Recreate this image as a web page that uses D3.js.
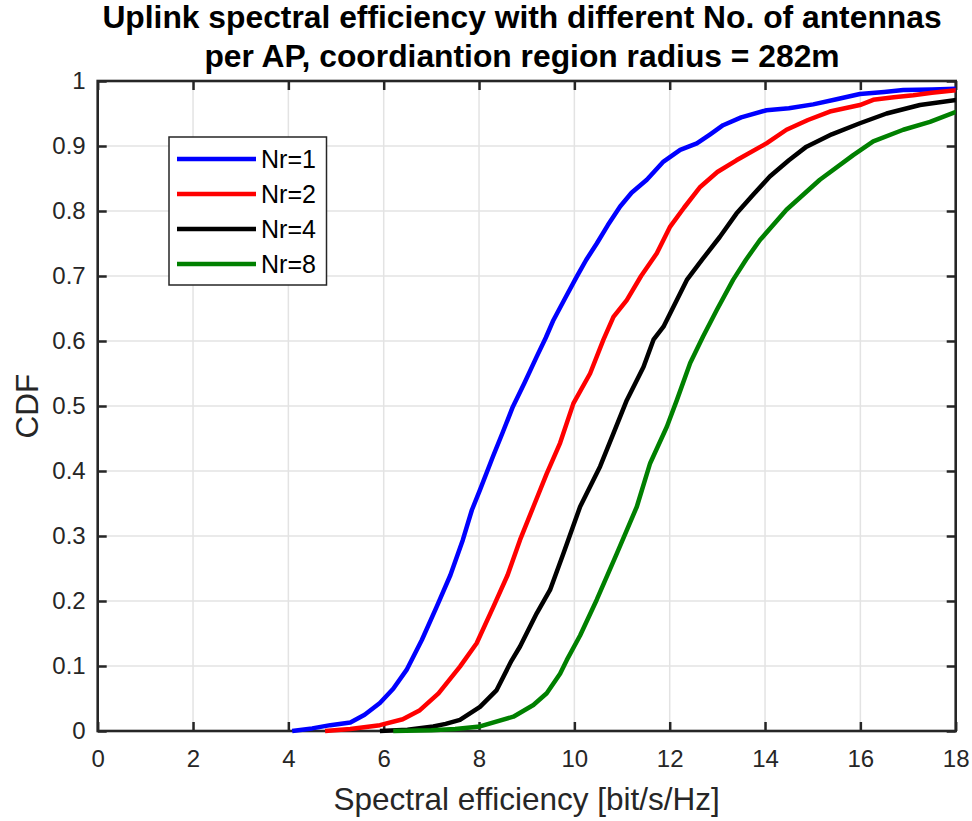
<!DOCTYPE html>
<html>
<head>
<meta charset="utf-8">
<script src="https://cdn.jsdelivr.net/npm/d3@7"></script>
<style>
  html, body { margin: 0; padding: 0; background: #fff; }
  svg { display: block; font-family: "Liberation Sans", Arial, Helvetica, sans-serif; }
</style>
</head>
<body>
<svg id="chart" width="972" height="821"></svg>
<script>
// Empirical CDF of uplink spectral efficiency for each antenna count
const seriesNames = ["Nr=1", "Nr=2", "Nr=4", "Nr=8"];
const seriesColors = ["#0000ff", "#ff0000", "#000000", "#008000"];

const nr1X = [4.08,4.5,4.88,5.3,5.6,5.92,6.2,6.48,6.8,7.11,7.4,7.66,7.85,8.02,8.29,8.5,8.71,8.95,9.21,9.4,9.56,9.8,10.05,10.25,10.47,10.7,10.96,11.2,11.52,11.87,12.22,12.57,12.85,13.12,13.5,14.03,14.5,15.01,15.5,15.99,16.5,16.9,17.5,18.02,18.6];
const nr1Y = [0,0.004,0.009,0.013,0.025,0.043,0.065,0.094,0.14,0.191,0.24,0.294,0.34,0.371,0.422,0.46,0.499,0.535,0.576,0.605,0.632,0.665,0.699,0.725,0.75,0.778,0.807,0.828,0.848,0.876,0.894,0.904,0.918,0.932,0.944,0.955,0.958,0.964,0.972,0.98,0.983,0.986,0.987,0.988,0.99];

const nr2X = [4.77,5.3,5.92,6.4,6.76,7.15,7.6,7.95,8.3,8.6,8.86,9.14,9.42,9.7,9.98,10.33,10.61,10.82,11.1,11.4,11.73,12.01,12.3,12.64,13.0,13.4,14.03,14.45,14.9,15.36,15.99,16.27,16.7,17.11,17.5,18.02,18.5];
const nr2Y = [0,0.003,0.009,0.018,0.032,0.058,0.099,0.135,0.191,0.24,0.294,0.345,0.396,0.443,0.504,0.55,0.602,0.637,0.663,0.7,0.735,0.776,0.805,0.837,0.86,0.878,0.904,0.925,0.94,0.953,0.963,0.971,0.975,0.978,0.982,0.986,0.99];

const nr4X = [5.92,6.5,7.04,7.3,7.6,8.02,8.37,8.68,8.86,9.21,9.49,9.77,10.12,10.54,10.82,11.1,11.45,11.66,11.87,12.15,12.36,12.7,13.05,13.4,13.75,14.1,14.5,14.87,15.4,15.99,16.55,17.25,18.02,18.6];
const nr4Y = [0,0.002,0.007,0.011,0.017,0.037,0.063,0.108,0.13,0.181,0.217,0.273,0.345,0.407,0.458,0.509,0.56,0.602,0.622,0.663,0.694,0.727,0.76,0.796,0.825,0.853,0.878,0.899,0.918,0.935,0.95,0.963,0.971,0.977];

const nr8X = [6.2,7.0,7.5,8.02,8.72,9.14,9.42,9.7,9.84,10.12,10.47,10.89,11.31,11.59,11.94,12.15,12.43,12.7,12.99,13.33,13.6,13.89,14.45,15.15,15.85,16.27,16.9,17.46,18.02,18.6];
const nr8Y = [0,0.001,0.003,0.007,0.022,0.04,0.058,0.088,0.109,0.147,0.202,0.273,0.345,0.412,0.468,0.509,0.566,0.607,0.648,0.694,0.725,0.755,0.802,0.848,0.886,0.907,0.925,0.937,0.953,0.965];

const xTicks = [0,2,4,6,8,10,12,14,16,18];
const yTicks = [0,0.1,0.2,0.3,0.4,0.5,0.6,0.7,0.8,0.9,1];
const titleLines = ["Uplink spectral efficiency with different No. of antennas",
                    "per AP, coordiantion region radius = 282m"];
const xLabel = "Spectral efficiency [bit/s/Hz]";
const yLabel = "CDF";

const seriesX = [nr1X, nr2X, nr4X, nr8X];
const seriesY = [nr1Y, nr2Y, nr4Y, nr8Y];
const series = seriesNames.map((name, i) => ({
  name, color: seriesColors[i],
  points: seriesX[i].map((x, j) => ({ x, y: seriesY[i][j] }))
}));

const svg = d3.select("#chart");
const W = 972, H = 821;
const margin = { left: 97.7, right: W - 955.7, top: 81, bottom: H - 731 };
const innerW = W - margin.left - margin.right;
const innerH = H - margin.top - margin.bottom;
const axisColor = "#262626";

const x = d3.scaleLinear().domain([0, 18]).range([0, innerW]);
const y = d3.scaleLinear().domain([0, 1]).range([innerH, 0]);

const g = svg.append("g").attr("transform", `translate(${margin.left},${margin.top})`);

// grid
g.append("g").selectAll("line").data(xTicks).join("line")
  .attr("x1", d => x(d)).attr("x2", d => x(d)).attr("y1", 0).attr("y2", innerH)
  .attr("stroke", "#e3e3e3").attr("stroke-width", 1.5);
g.append("g").selectAll("line").data(yTicks).join("line")
  .attr("y1", d => y(d)).attr("y2", d => y(d)).attr("x1", 0).attr("x2", innerW)
  .attr("stroke", "#e3e3e3").attr("stroke-width", 1.5);

// axes: ticks inward, mirrored on top/right
const tickLen = 9;
const fontTick = 24;
const xAxis = g.append("g").attr("transform", `translate(0,${innerH})`)
  .call(d3.axisBottom(x).tickValues(xTicks).tickSize(-tickLen).tickPadding(tickLen + 10).tickFormat(d3.format("d")));
const xAxisTop = g.append("g")
  .call(d3.axisTop(x).tickValues(xTicks).tickSize(-tickLen).tickFormat(""));
const yAxis = g.append("g")
  .call(d3.axisLeft(y).tickValues(yTicks).tickSize(-tickLen).tickPadding(tickLen + 3).tickFormat(d => d === 0 || d === 1 ? d3.format("d")(d) : d3.format(".1f")(d)));
const yAxisRight = g.append("g").attr("transform", `translate(${innerW},0)`)
  .call(d3.axisRight(y).tickValues(yTicks).tickSize(-tickLen).tickFormat(""));

[xAxis, xAxisTop, yAxis, yAxisRight].forEach(a => {
  a.select(".domain").remove();
  a.selectAll(".tick line").attr("stroke", axisColor).attr("stroke-width", 2.5);
  a.selectAll(".tick text").attr("fill", axisColor).attr("font-size", fontTick)
    .attr("font-family", "'Liberation Sans', Arial, sans-serif");
});
xAxis.selectAll(".tick text").attr("dy", "0.71em");

// clip for the curves
svg.append("defs").append("clipPath").attr("id", "plotClip")
  .append("rect").attr("x", 0).attr("y", -4).attr("width", innerW).attr("height", innerH + 8);

// box
g.append("rect").attr("x", 0).attr("y", 0).attr("width", innerW).attr("height", innerH)
  .attr("fill", "none").attr("stroke", axisColor).attr("stroke-width", 2.6);

const line = d3.line().x(d => x(d.x)).y(d => y(d.y));
g.append("g").attr("clip-path", "url(#plotClip)")
  .selectAll("path").data(series).join("path")
  .attr("d", d => line(d.points))
  .attr("fill", "none").attr("stroke", d => d.color)
  .attr("stroke-width", 4.5).attr("stroke-linejoin", "round");

// title
svg.append("g").selectAll("text").data(titleLines).join("text")
  .attr("x", 522).attr("y", (d, i) => 28 + i * 39)
  .attr("text-anchor", "middle").attr("font-weight", "bold").attr("font-size", 31.8)
  .attr("fill", "#000").text(d => d);

// axis labels
svg.append("text").attr("x", margin.left + innerW / 2).attr("y", 810)
  .attr("text-anchor", "middle").attr("font-size", 31.5).attr("fill", axisColor).text(xLabel);
svg.append("text").attr("transform", `translate(38,${margin.top + innerH / 2}) rotate(-90)`)
  .attr("text-anchor", "middle").attr("font-size", 31.5).attr("fill", axisColor).text(yLabel);

// legend
const legend = svg.append("g").attr("transform", "translate(169,137)");
legend.append("rect").attr("width", 157.5).attr("height", 148)
  .attr("fill", "#fff").attr("stroke", axisColor).attr("stroke-width", 1.5);
const rows = legend.selectAll("g").data(series).join("g")
  .attr("transform", (d, i) => `translate(0,${22 + i * 35})`);
rows.append("line").attr("x1", 8).attr("x2", 87).attr("y1", 0).attr("y2", 0)
  .attr("stroke", d => d.color).attr("stroke-width", 4.5);
rows.append("text").attr("x", 92).attr("y", 0).attr("dy", "0.35em")
  .attr("font-size", 25).attr("fill", "#000").text(d => d.name);
</script>
</body>
</html>
